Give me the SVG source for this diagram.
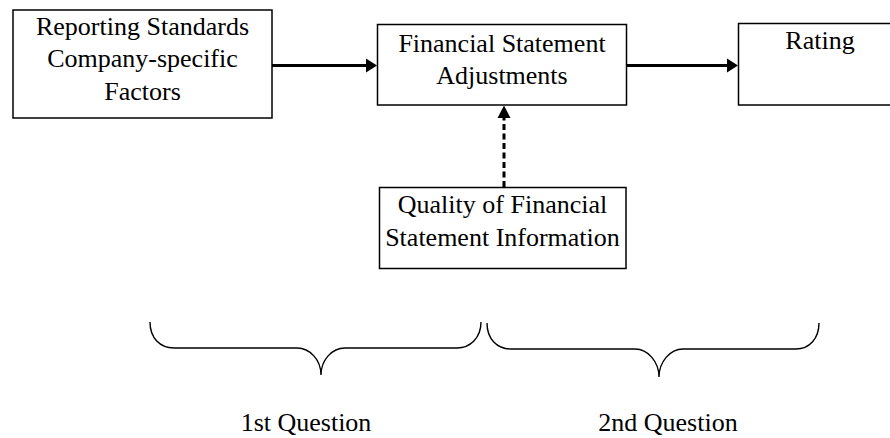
<svg xmlns="http://www.w3.org/2000/svg" width="890" height="438" viewBox="0 0 890 438">
<style>
.box{fill:#fff;stroke:#000;stroke-width:1.5}
.t{font-family:"Liberation Serif","Times New Roman",serif;font-size:26px;fill:#000;text-anchor:middle}
.arr{fill:none;stroke:#000;stroke-width:3}
.dash{fill:none;stroke:#000;stroke-width:3;stroke-dasharray:6 3.5}
.brace{fill:none;stroke:#000;stroke-width:1.4}
.head{fill:#000}
</style>
<rect width="890" height="438" fill="#fff"/>
<g id="node-reporting">
<rect class="box" x="13" y="10" width="259" height="108"/>
<text class="t" x="142.5" y="35">Reporting Standards</text>
<text class="t" x="142.5" y="67">Company-specific</text>
<text class="t" x="142.5" y="100">Factors</text>
</g>
<g id="node-adjustments">
<rect class="box" x="377.5" y="24.5" width="249" height="80.5"/>
<text class="t" x="502" y="52">Financial Statement</text>
<text class="t" x="502" y="84">Adjustments</text>
</g>
<g id="node-rating">
<rect class="box" x="738.5" y="23.5" width="165" height="81.5"/>
<text class="t" x="820" y="49">Rating</text>
</g>
<g id="node-quality">
<rect class="box" x="379.5" y="187.5" width="246.5" height="81"/>
<text class="t" x="502.5" y="213">Quality of Financial</text>
<text class="t" x="502.5" y="246">Statement Information</text>
</g>
<g id="connectors">
<line class="arr" x1="272" y1="65.5" x2="367" y2="65.5"/>
<polygon class="head" points="377,65.5 366,58.5 366,72.5"/>
<line class="arr" x1="627" y1="65.5" x2="727" y2="65.5"/>
<polygon class="head" points="738,65.5 727,58.5 727,72.5"/>
<line class="dash" x1="504" y1="187" x2="504" y2="117"/>
<polygon class="head" points="504,105.5 497.5,118 510.5,118"/>
</g>
<g id="braces">
<path class="brace" d="M150,322 C150,338 160,348 174,348 L297,348 C310,348 321,360 321,375 C321,360 332,348 345,348 L457,348 C470,348 481,338 481,322"/>
<path class="brace" d="M487,323 C487,339 497,349 511,349 L635,349 C648,349 659,362 659,377 C659,362 670,349 683,349 L796,349 C809,349 819,339 819,323"/>
</g>
<text class="t" x="306" y="431">1st Question</text>
<text class="t" x="668" y="431">2nd Question</text>
</svg>
